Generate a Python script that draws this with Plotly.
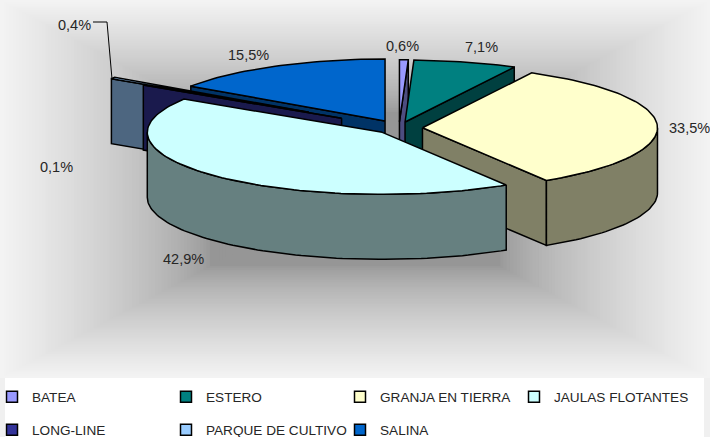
import math
import plotly.graph_objects as go

# --- data -----------------------------------------------------------------
categories = ["BATEA", "ESTERO", "GRANJA EN TIERRA", "JAULAS FLOTANTES",
              "LONG-LINE", "PARQUE DE CULTIVO", "SALINA"]
shares = [0.6, 7.1, 33.5, 42.9, 0.1, 0.4, 15.5]
explode = [0.10, 0.10, 0.10, 0.10, 0.29, 0.46, 0.127]
top_colors = ["#9999ff", "#008080", "#ffffcc", "#ccffff", "#333399", "#99ccff", "#0066cc"]
wall_colors = ["#4d4d80", "#004040", "#808066", "#668080", "#1a1a4d", "#4d6680", "#003366"]
# paint order: back to front
paint_order = [6, 5, 4, 0, 1, 2, 3]

W, H = 710, 470        # page is clipped to 437; extra height keeps row 2 of the legend from pushing margins
CX, CY = 399, 128      # pie centre
RX, RY = 235, 62       # projected radii
DEPTH = 65             # extruded height
FONT = "Liberation Sans, Arial, sans-serif"
TXT = "#262626"

label_pos = {0: (402, 46), 1: (481, 47), 2: (689, 128), 3: (183, 259),
             4: (56, 167), 5: (74, 25), 6: (248, 55)}
leader_x = [93, 107, 112]
leader_y = [22, 22, 79]

# --- geometry from the values ---------------------------------------------
total = sum(shares)
bounds = [0.0]
for s in shares:
    bounds.append(bounds[-1] + s / total * 360)


def pt(cx, cy, deg):
    r = math.radians(deg)
    return cx + RX * math.sin(r), cy - RY * math.cos(r)


def arc(cx, cy, a0, a1):
    n = max(2, int(abs(a1 - a0) / 1.5) + 2)
    return [pt(cx, cy, a0 + (a1 - a0) * i / (n - 1)) for i in range(n)]


fig = go.Figure()


def poly(points, color):
    xs = [p[0] for p in points] + [points[0][0]]
    ys = [p[1] for p in points] + [points[0][1]]
    fig.add_trace(go.Scatter(x=xs, y=ys, mode="lines", fill="toself", fillcolor=color,
                             line=dict(color="#000000", width=1.5), showlegend=False,
                             hoverinfo="skip"))


for i in paint_order:
    a0, a1 = bounds[i], bounds[i + 1]
    mid = math.radians((a0 + a1) / 2)
    cx = CX + explode[i] * RX * math.sin(mid)
    cy = CY - explode[i] * RY * math.cos(mid)
    apex = (cx, cy)
    # cut faces
    for edge, visible in ((a0, math.sin(math.radians(a0)) < 0), (a1, math.sin(math.radians(a1)) > 0)):
        if visible:
            p = pt(cx, cy, edge)
            poly([apex, p, (p[0], p[1] + DEPTH), (cx, cy + DEPTH)], wall_colors[i])
    # outer curved wall (front half only)
    lo, hi = max(a0, 90), min(a1, 270)
    if lo < hi:
        top_arc = arc(cx, cy, lo, hi)
        poly(top_arc + [(x, y + DEPTH) for x, y in reversed(top_arc)], wall_colors[i])
    # top face
    poly([apex] + arc(cx, cy, a0, a1), top_colors[i])

# leader line of the smallest label
fig.add_trace(go.Scatter(x=leader_x, y=leader_y, mode="lines",
                         line=dict(color="#000000", width=1), showlegend=False, hoverinfo="skip"))

# legend entries, two native legends = two rows
for i, name in enumerate(categories):
    fig.add_trace(go.Scatter(x=[None], y=[None], mode="markers", name=name,
                             legend="legend" if i < 4 else "legend2",
                             marker=dict(symbol="square", size=11, color=top_colors[i],
                                         line=dict(color="#000000", width=1.5))))

# labels
for i, s in enumerate(shares):
    x, y = label_pos[i]
    fig.add_annotation(x=x, y=y, text=f"{s:.1f}%".replace(".", ","), showarrow=False,
                       font=dict(family=FONT, size=14.5, color=TXT))

# background: rectangular path gradient with a darker central plateau
shapes = []
STEPS = 110
BG_BOTTOM = 378
EDGE, CENTRE, PLATEAU, GAMMA = 243, 150, 0.41, 0.7
for k in range(STEPS):
    t = 1 - k / STEPS
    f = max(0.0, (t - PLATEAU) / (1 - PLATEAU)) ** GAMMA
    v = round(CENTRE + (EDGE - CENTRE) * f)
    hw, hh = W / 2 * t, BG_BOTTOM / 2 * t
    shapes.append(dict(type="rect", xref="x", yref="y", layer="below",
                       x0=W / 2 - hw, x1=W / 2 + hw, y0=BG_BOTTOM / 2 - hh, y1=BG_BOTTOM / 2 + hh,
                       fillcolor=f"rgb({v},{v},{v})", line=dict(width=0)))
# legend panel
shapes.append(dict(type="rect", xref="x", yref="y", layer="below", x0=0, x1=W, y0=BG_BOTTOM, y1=H,
                   fillcolor="#f0f0f0", line=dict(width=0)))
shapes.append(dict(type="rect", xref="x", yref="y", layer="below", x0=5, x1=704, y0=BG_BOTTOM, y1=H,
                   fillcolor="#ffffff", line=dict(width=0)))


def leg(row_y):
    return dict(orientation="h", x=2 / W, xanchor="left", y=1 - row_y / H, yanchor="middle",
                entrywidth=139, entrywidthmode="pixels", bgcolor="rgba(0,0,0,0)", indentation=-10,
                font=dict(family=FONT, size=13.6, color=TXT), itemclick=False, itemdoubleclick=False)


fig.update_layout(
    width=W, height=H, autosize=False, margin=dict(l=0, r=0, t=0, b=0),
    paper_bgcolor="#ffffff", plot_bgcolor="rgba(0,0,0,0)",
    xaxis=dict(range=[0, W], visible=False, fixedrange=True),
    yaxis=dict(range=[H, 0], visible=False, fixedrange=True),
    shapes=shapes, legend=leg(397), legend2=leg(430), hovermode=False,
)

fig.write_html("out.html", config=dict(displayModeBar=False),
               post_script="document.body.style.margin='0';document.documentElement.style.overflow='hidden';")
